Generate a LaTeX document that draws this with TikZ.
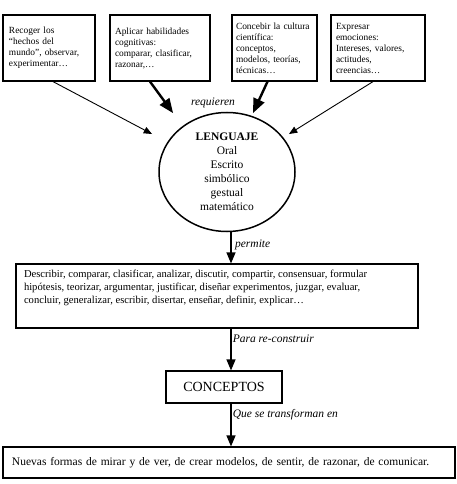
\documentclass[tikz,border=0pt]{standalone}
\usepackage{fontspec}
\setmainfont{Liberation Serif}
\usetikzlibrary{arrows,shapes}

\tikzset{
  caja/.style={draw,rectangle,line width=1.2pt,align=left,inner ysep=0pt,
    font=\fontsize{9.4}{11}\selectfont},
  etiq/.style={font=\fontsize{11.5}{13}\selectfont\itshape}
}

\begin{document}
\begin{tikzpicture}[x=1pt,y=-1pt,>=triangle 45]
\useasboundingbox (0,0) rectangle (456,484);
		% cajas de arriba
		\node[caja,text width=80,inner xsep=6,minimum height=66] (A) at (49,48)
		{Recoger los\\“hechos del\\mundo”, observar,\\experimentar…};
		\node[caja,text width=90,inner xsep=5,minimum height=66] (B) at (160,48)
		{Aplicar habilidades\\cognitivas:\\comparar, clasificar,\\razonar,…};
		\node[caja,text width=77,inner xsep=4,minimum height=66] (C) at (274.5,48)
		{Concebir la cultura\\científica:\\conceptos,\\modelos, teorías,\\técnicas…};
		\node[caja,text width=84,inner xsep=5,minimum height=66] (D) at (378,48)
		{Expresar\\emociones:\\Intereses, valores,\\actitudes,\\creencias…};
		%
		\node[draw,ellipse,line width=1.5pt,minimum width=136,minimum height=119,
		align=center,inner sep=0pt,font=\fontsize{11.5}{14}\selectfont] (L) at (227,172)
		{\textbf{LENGUAJE}\\Oral\\Escrito\\simbólico\\gestual\\matemático};
		\node[etiq] (req) at (213,103) {requieren};
		%
		\node[caja,inner xsep=8,inner ysep=6,minimum width=402,minimum height=64,
		font=\fontsize{10.6}{13}\selectfont] (E) at (217,296)
		{\parbox[c][52pt][t]{386pt}{\raggedright
		Describir, comparar, clasificar, analizar, discutir, compartir, consensuar, formular\\
		hipótesis, teorizar, argumentar, justificar, diseñar experimentos, juzgar, evaluar,\\
		concluir, generalizar, escribir, disertar, enseñar, definir, explicar…}};
		\node[caja,minimum width=116,minimum height=32,font=\fontsize{14}{16}\selectfont] (F) at (224,387) {CONCEPTOS};
		\node[caja,text width=434,inner xsep=9,minimum height=31,font=\fontsize{11.5}{13}\selectfont] (G) at (229,462.5)
		{Nuevas formas de mirar y de ver, de crear modelos, de sentir, de razonar, de comunicar.};
		%
		\coordinate (a1) at (152,134);
		\coordinate (a2) at (173,113);
		\coordinate (a3) at (253,113);
		\coordinate (a4) at (289,134);
		\coordinate (eje) at (231,0);
		%
		\path[->]
		% flechas de las cajas de arriba
		([xshift=4pt]A.south) edge[line width=0.9pt] (a1)
		([xshift=-10pt]B.south) edge[line width=2.4pt] (a2)
		([xshift=-7pt]C.south) edge[line width=2.4pt] (a3)
		([xshift=-5pt]D.south) edge[line width=0.9pt] (a4)
		% flechas verticales
		(eje |- L.south) edge[line width=1.6pt] node[etiq,right,pos=0.4]{permite} (eje |- E.north)
		(eje |- E.south) edge[line width=1.6pt] node[etiq,right,pos=0.25,inner xsep=1pt]{Para re-construir} (eje |- F.north)
		(eje |- F.south) edge[line width=1.6pt] node[etiq,right,pos=0.27,inner xsep=1pt]{Que se transforman en} (eje |- G.north);
\end{tikzpicture}
\end{document}
